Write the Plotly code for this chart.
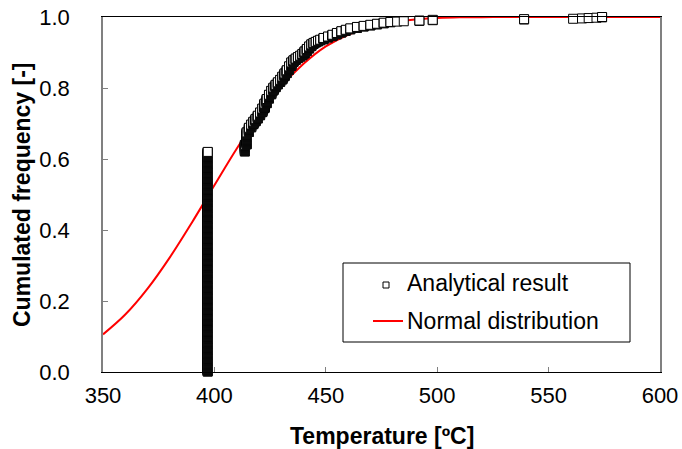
import numpy as np
import plotly.graph_objects as go

# analytical results: temperature [ºC] and cumulated frequency reached at that temperature
result_temps = [397, 413.7, 414.5, 415.5, 416.5, 417.5, 418.5, 419.5, 420.5, 421.5,
                422.5, 423.5, 424.5, 425.5, 426.5, 427.5, 428.5, 429.5, 430.5, 431.5,
                432.5, 433.5, 434.5, 435.5, 436.5, 437.5, 438.5, 439.5, 440.5, 441.5,
                442.5, 443.5, 444.5, 445.5, 446.5, 447.5, 449, 451, 453, 455,
                457, 459, 461, 464, 467, 470, 473, 476, 479, 482,
                485, 492, 498, 539, 561, 565, 568, 571.5, 574]
result_cumfreq = [0.620, 0.640, 0.675, 0.688, 0.697, 0.705, 0.713, 0.722, 0.731, 0.742,
                  0.756, 0.769, 0.781, 0.792, 0.801, 0.809, 0.816, 0.823, 0.832, 0.841,
                  0.850, 0.861, 0.872, 0.878, 0.883, 0.887, 0.891, 0.896, 0.903, 0.910,
                  0.917, 0.923, 0.927, 0.930, 0.933, 0.936, 0.941, 0.945, 0.950, 0.955,
                  0.960, 0.964, 0.968, 0.972, 0.975, 0.978, 0.981, 0.984, 0.986, 0.987,
                  0.988, 0.990, 0.992, 0.994, 0.995, 0.996, 0.997, 0.998, 1.000]
n_samples = 1000

# fitted normal distribution
normal_temps = [350, 360, 370, 380, 390, 400, 410, 420, 430, 440, 450, 460,
                470, 480, 490, 500, 510, 520, 530, 540, 560, 580, 600]
normal_freq = [0.106, 0.162, 0.235, 0.323, 0.422, 0.526, 0.629, 0.723, 0.804,
               0.868, 0.917, 0.950, 0.972, 0.985, 0.993, 0.997, 0.999, 0.9995,
               1.0, 1.0, 1.0, 1.0, 1.0]

x_range = [350, 600]
y_range = [0, 1]

# one point per sample, as in an empirical cumulative distribution
counts = np.diff(np.round(np.array([0] + result_cumfreq) * n_samples)).astype(int)
samples = np.repeat(result_temps, counts)
cum_freq = np.arange(1, len(samples) + 1) / len(samples)

fig = go.Figure()

fig.add_trace(go.Scatter(
    x=normal_temps, y=normal_freq, mode='lines',
    line=dict(color='#ff0000', width=2, shape='spline', smoothing=1),
    name='Normal distribution', showlegend=False, cliponaxis=False))

fig.add_trace(go.Scatter(
    x=samples, y=cum_freq, mode='markers',
    marker=dict(symbol='square', size=9, color='white',
                line=dict(color='black', width=1)),
    name='Analytical result', showlegend=False, cliponaxis=False))

W, H = 682, 449
# plot area in pixels: left 103, right 660, top 17, bottom 372
L, R, T, B = 103, 660, 17, 372


def px(x):
    return (x - L) / (R - L)


def py(y):
    return (B - y) / (B - T)


font = 'Liberation Sans, Arial, sans-serif'

shapes = [
    # legend box
    dict(type='rect', xref='paper', yref='paper',
         x0=px(343), x1=px(630), y0=py(342), y1=py(263),
         line=dict(color='black', width=1), fillcolor='white'),
    # legend symbols
    dict(type='rect', xref='paper', yref='paper',
         x0=px(383), x1=px(389), y0=py(288), y1=py(282),
         line=dict(color='black', width=1), fillcolor='white'),
    dict(type='line', xref='paper', yref='paper',
         x0=px(373), x1=px(403), y0=py(321), y1=py(321),
         line=dict(color='#ff0000', width=2)),
]

annotations = [
    dict(text='Analytical result', xref='paper', yref='paper',
         x=px(405), y=py(283), xanchor='left', yanchor='middle',
         showarrow=False, font=dict(family=font, size=23, color='black')),
    dict(text='Normal distribution', xref='paper', yref='paper',
         x=px(405), y=py(321), xanchor='left', yanchor='middle',
         showarrow=False, font=dict(family=font, size=23, color='black')),
    dict(text='<b>Temperature [ºC]</b>', xref='paper', yref='paper',
         x=px(382), y=py(436), xanchor='center', yanchor='middle',
         showarrow=False, font=dict(family=font, size=23, color='black')),
    dict(text='<b>Cumulated frequency [-]</b>', xref='paper', yref='paper',
         x=px(22), y=py(195), xanchor='center', yanchor='middle', textangle=-90,
         showarrow=False, font=dict(family=font, size=23, color='black')),
]

fig.update_layout(
    width=W, height=H,
    margin=dict(l=L, r=W - R, t=T, b=H - B, autoexpand=False),
    paper_bgcolor='white', plot_bgcolor='white',
    font=dict(family=font, color='black'),
    shapes=shapes, annotations=annotations,
    showlegend=False,
)

fig.update_xaxes(
    range=x_range, tickvals=[350, 400, 450, 500, 550, 600],
    ticks='inside', ticklen=5, tickcolor='#808080', tickwidth=1,
    showline=True, linecolor='black', linewidth=1, mirror=True,
    showgrid=False, zeroline=False, automargin=False,
    tickfont=dict(family=font, size=22, color='black'), ticklabelstandoff=4,
    ticklabeloverflow='allow',
)

fig.update_yaxes(
    range=y_range, tickvals=[0, 0.2, 0.4, 0.6, 0.8, 1.0], tickformat='.1f',
    ticks='inside', ticklen=5, tickcolor='#808080', tickwidth=1,
    showline=True, linecolor='#808080', linewidth=1.5, mirror=True,
    showgrid=False, zeroline=False, automargin=False,
    tickfont=dict(family=font, size=22, color='black'), ticklabelstandoff=27,
    ticklabeloverflow='allow',
)

# drop the default page margin so the figure sits exactly in the window
fig.write_html('out.html',
               config={'displayModeBar': False},
               post_script="document.body.style.margin='0';"
                           "document.body.style.overflow='hidden';")
